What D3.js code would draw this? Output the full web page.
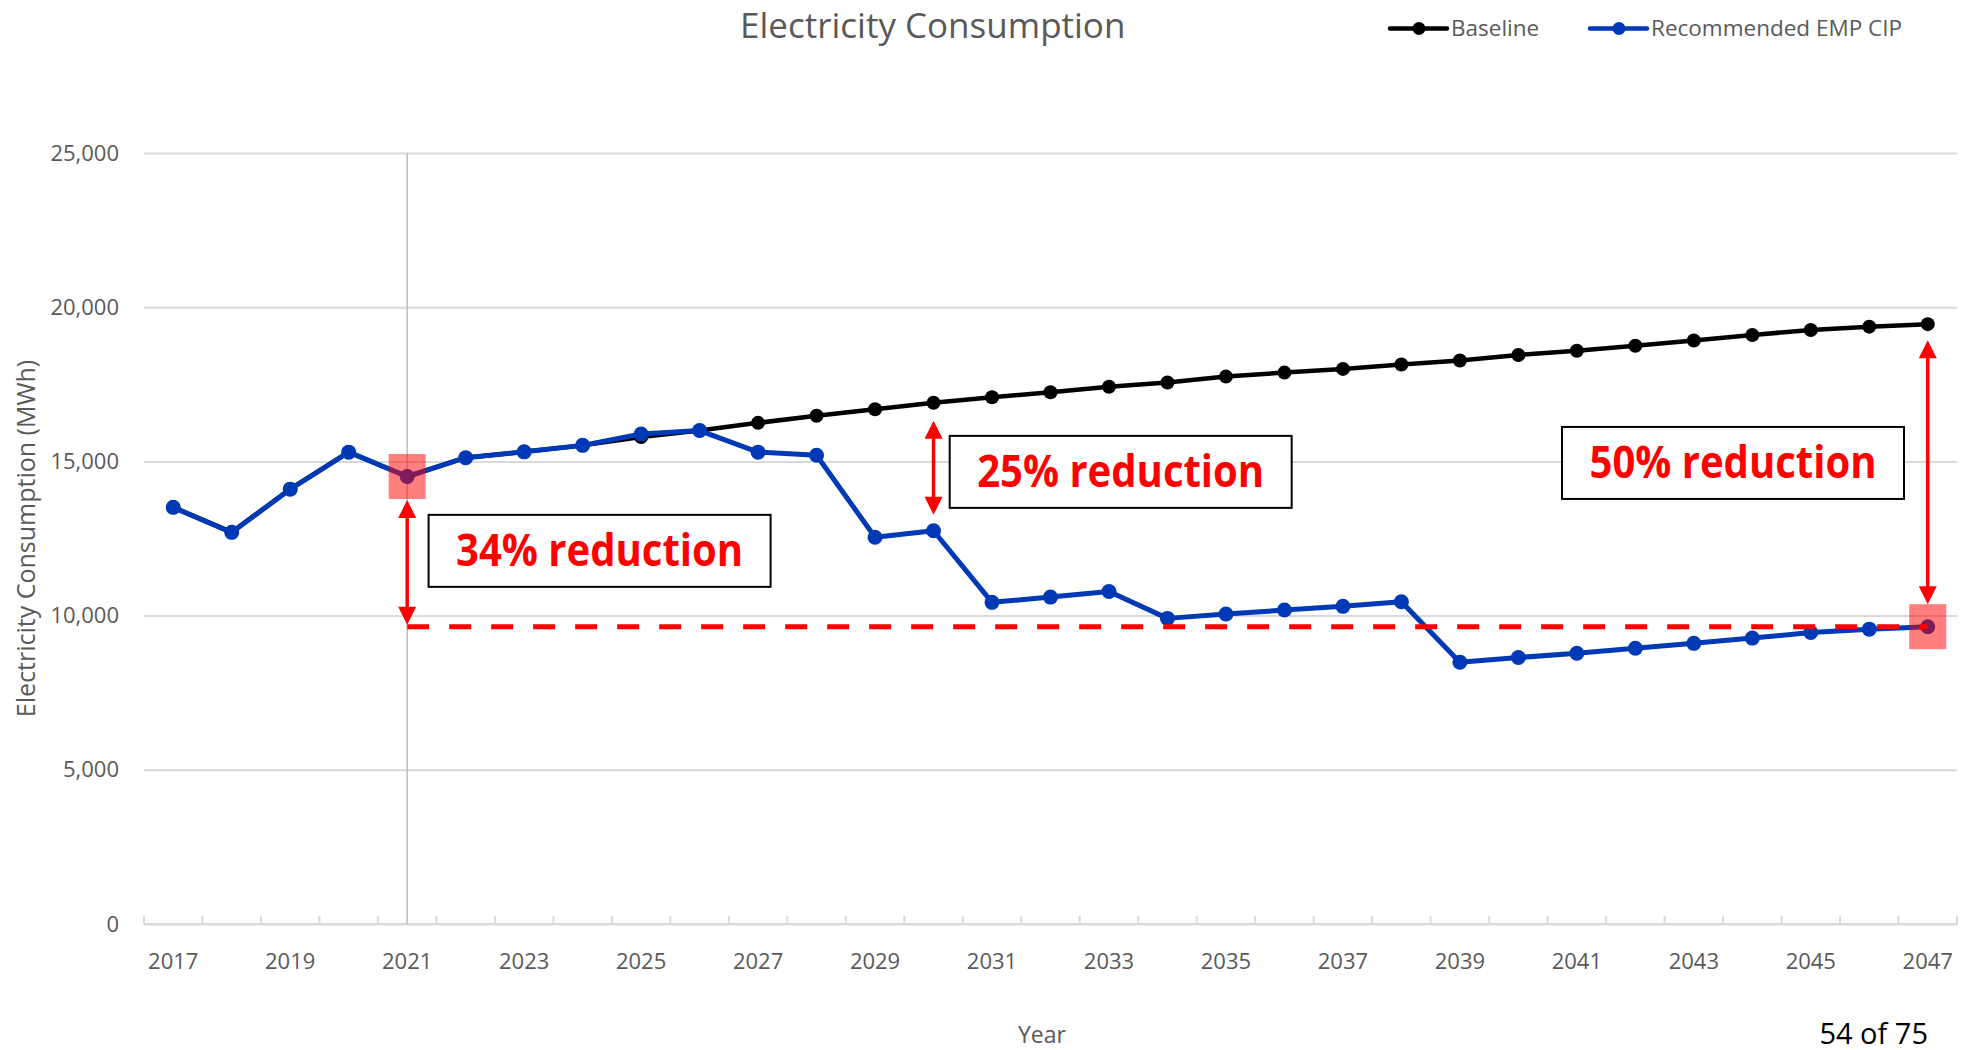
<!DOCTYPE html>
<html>
<head>
<meta charset="utf-8">
<title>Electricity Consumption</title>
<script src="https://cdn.jsdelivr.net/npm/d3@7"></script>
<style>
  html, body { margin: 0; padding: 0; background: #ffffff; }
  svg { display: block; }
  text { font-family: "Open Sans", "Noto Sans", sans-serif; }
</style>
</head>
<body>
<svg id="chart" width="1969" height="1050"></svg>
<script>
// ---- data ----
const years = [2017, 2018, 2019, 2020, 2021, 2022, 2023, 2024, 2025, 2026, 2027, 2028, 2029, 2030, 2031, 2032,
               2033, 2034, 2035, 2036, 2037, 2038, 2039, 2040, 2041, 2042, 2043, 2044, 2045, 2046, 2047];

const baseline = [13510, 12700, 14100, 15300, 14510, 15120, 15310, 15520, 15790, 16000, 16250, 16480, 16690, 16900, 17080, 17240,
                  17420, 17560, 17750, 17880, 18000, 18140, 18270, 18450, 18590, 18750, 18920, 19100, 19260, 19370, 19450];

const recommended = [13510, 12700, 14100, 15300, 14510, 15120, 15310, 15520, 15890, 16000, 15300, 15200, 12540, 12750, 10430, 10600,
                     10780, 9910, 10050, 10180, 10300, 10450, 8490, 8640, 8780, 8940, 9100, 9270, 9450, 9560, 9640];

const yTicks = [0, 5000, 10000, 15000, 20000, 25000];
const xTickLabels = [2017, 2019, 2021, 2023, 2025, 2027, 2029, 2031, 2033, 2035, 2037, 2039, 2041, 2043, 2045, 2047];

const seriesNames = ["Baseline", "Recommended EMP CIP"];

// reduction callouts: the year where the arrow sits, and the text shown
const reductionStart = 2021;                 // year the target line starts from
const targetYear = 2047;                     // year whose value sets the target line
const callouts = [
  { label: "34% reduction", boxYear: 2024.29, boxValue: 12100 },
  { label: "25% reduction", boxYear: 2033.20, boxValue: 14660 },
  { label: "50% reduction", boxYear: 2043.67, boxValue: 14950 }
];

// ---- layout ----
const svg = d3.select("#chart");
const plot = { left: 144, right: 1957, top: 153, bottom: 924 };

const x = d3.scaleBand().domain(years).range([plot.left, plot.right]).padding(0);
const bw = x.bandwidth();
const cx = yr => x(yr) + bw / 2;
const xCont = d3.scaleLinear().domain([years[0], years[years.length - 1]])
  .range([cx(years[0]), cx(years[years.length - 1])]);
const y = d3.scaleLinear().domain([0, 25000]).range([plot.bottom, plot.top]);

const grey = "#595959";
const gridColor = "#d9d9d9";
const blue = "#0039b5";
const red = "#ff0000";

// ---- title ----
svg.append("text")
  .attr("x", 740).attr("y", 38)
  .attr("font-size", 35).attr("fill", grey)
  .text("Electricity Consumption");

// ---- legend ----
const legend = svg.append("g");
const legendItems = [
  { name: seriesNames[0], color: "#000000", x0: 1390 },
  { name: seriesNames[1], color: blue, x0: 1590 }
];
legendItems.forEach(d => {
  const g = legend.append("g").attr("transform", `translate(${d.x0},28.5)`);
  g.append("line").attr("x1", 0).attr("x2", 57).attr("y1", 0).attr("y2", 0)
    .attr("stroke", d.color).attr("stroke-width", 4.5).attr("stroke-linecap", "round");
  g.append("circle").attr("cx", 29).attr("cy", 0).attr("r", 6.5).attr("fill", d.color);
  g.append("text").attr("x", 61).attr("y", 7.5)
    .attr("font-size", 22.5).attr("fill", grey).text(d.name);
});

// ---- y axis + gridlines ----
const yAxis = d3.axisLeft(y).tickValues(yTicks)
  .tickSize(-(plot.right - plot.left)).tickPadding(25)
  .tickFormat(d3.format(","));
const yg = svg.append("g").attr("transform", `translate(${plot.left},0)`).call(yAxis);
yg.select(".domain").remove();
yg.selectAll(".tick line").attr("stroke", gridColor).attr("stroke-width", 2);
yg.selectAll(".tick text").attr("font-size", 22).attr("fill", grey)
  .attr("font-family", "'Open Sans', sans-serif");

svg.append("text")
  .attr("transform", `translate(35,${(plot.top + plot.bottom) / 2}) rotate(-90)`)
  .attr("text-anchor", "middle").attr("font-size", 25).attr("fill", grey)
  .text("Electricity Consumption (MWh)");

// ---- x axis ----
const xg = svg.append("g");
xg.append("line").attr("x1", plot.left).attr("x2", plot.right)
  .attr("y1", plot.bottom).attr("y2", plot.bottom)
  .attr("stroke", gridColor).attr("stroke-width", 2);
const boundaries = years.map(yr => x(yr)).concat([plot.right]);
xg.selectAll("line.tk").data(boundaries).join("line").attr("class", "tk")
  .attr("x1", d => d).attr("x2", d => d)
  .attr("y1", plot.bottom).attr("y2", plot.bottom - 8)
  .attr("stroke", gridColor).attr("stroke-width", 2);
xg.selectAll("text.lbl").data(xTickLabels).join("text").attr("class", "lbl")
  .attr("x", d => cx(d)).attr("y", 969)
  .attr("text-anchor", "middle").attr("font-size", 22).attr("fill", grey)
  .text(d => d);

svg.append("text")
  .attr("x", 1042).attr("y", 1043)
  .attr("text-anchor", "middle").attr("font-size", 23).attr("fill", grey)
  .text("Year");

// vertical reference at the start year
svg.append("line")
  .attr("x1", cx(reductionStart)).attr("x2", cx(reductionStart))
  .attr("y1", plot.top).attr("y2", plot.bottom)
  .attr("stroke", "#bfbfbf").attr("stroke-width", 1.5);

// ---- series ----
const line = d3.line().x(d => cx(d.year)).y(d => y(d.value));
function drawSeries(values, color, width, r) {
  const pts = years.map((yr, i) => ({ year: yr, value: values[i] }));
  svg.append("path").datum(pts).attr("d", line)
    .attr("fill", "none").attr("stroke", color).attr("stroke-width", width)
    .attr("stroke-linejoin", "round");
  svg.append("g").selectAll("circle").data(pts).join("circle")
    .attr("cx", d => cx(d.year)).attr("cy", d => y(d.value)).attr("r", r)
    .attr("fill", color);
}
drawSeries(baseline, "#000000", 4.5, 7);
drawSeries(recommended, blue, 5, 7.5);

// ---- target line and highlights ----
const targetIdx = years.indexOf(targetYear);
const startIdx = years.indexOf(reductionStart);
const target = recommended[targetIdx];

svg.append("line")
  .attr("x1", cx(reductionStart)).attr("x2", cx(targetYear))
  .attr("y1", y(target)).attr("y2", y(target))
  .attr("stroke", red).attr("stroke-width", 5).attr("stroke-dasharray", "22,20");

const sqW = 37, sqH = 45;
[[reductionStart, recommended[startIdx]], [targetYear, target]].forEach(([yr, v]) => {
  svg.append("rect")
    .attr("x", cx(yr) - sqW / 2).attr("y", y(v) - sqH / 2)
    .attr("width", sqW).attr("height", sqH)
    .attr("fill", red).attr("fill-opacity", 0.5);
});

// ---- double-headed arrows ----
function dblArrow(xp, y1, y2) {
  const g = svg.append("g").attr("fill", red).attr("stroke", red);
  const head = 18, half = 9;
  g.append("line").attr("x1", xp).attr("x2", xp)
    .attr("y1", y1 + head - 2).attr("y2", y2 - head + 2).attr("stroke-width", 3.5);
  g.append("path").attr("stroke", "none")
    .attr("d", `M${xp},${y1} L${xp - half},${y1 + head} L${xp + half},${y1 + head} Z`);
  g.append("path").attr("stroke", "none")
    .attr("d", `M${xp},${y2} L${xp - half},${y2 - head} L${xp + half},${y2 - head} Z`);
}
// start year: from below the highlight square down to the target line
dblArrow(cx(reductionStart), y(recommended[startIdx]) + sqH / 2 + 1, y(target) - 2);
// 2030: between the two series
const midIdx = years.indexOf(2030);
dblArrow(cx(2030), y(baseline[midIdx]) + 18, y(recommended[midIdx]) - 16);
// final year: from the baseline point down to the highlight square
dblArrow(cx(targetYear), y(baseline[targetIdx]) + 16, y(target) - sqH / 2);

// ---- callout boxes ----
const boxW = 342, boxH = 72;
callouts.forEach(c => {
  const bx = xCont(c.boxYear), by = y(c.boxValue);
  svg.append("rect")
    .attr("x", bx - boxW / 2).attr("y", by - boxH / 2)
    .attr("width", boxW).attr("height", boxH)
    .attr("fill", "#ffffff").attr("stroke", "#000000").attr("stroke-width", 2);
  svg.append("text")
    .attr("x", bx - 143.5).attr("y", by + 15.5)
    .attr("font-size", 44).attr("font-weight", 700).attr("fill", red)
    .attr("textLength", 287).attr("lengthAdjust", "spacingAndGlyphs")
    .text(c.label);
});

// ---- page footer ----
svg.append("text")
  .attr("x", 1928).attr("y", 1044).attr("text-anchor", "end")
  .attr("font-size", 29).attr("fill", "#000000")
  .text("54 of 75");
svg.append("text")
  .attr("x", 1731).attr("y", 1062)
  .attr("font-size", 17).attr("fill", "#1f55c5").attr("letter-spacing", 7)
  .text("CAROLLO");
</script>
</body>
</html>
